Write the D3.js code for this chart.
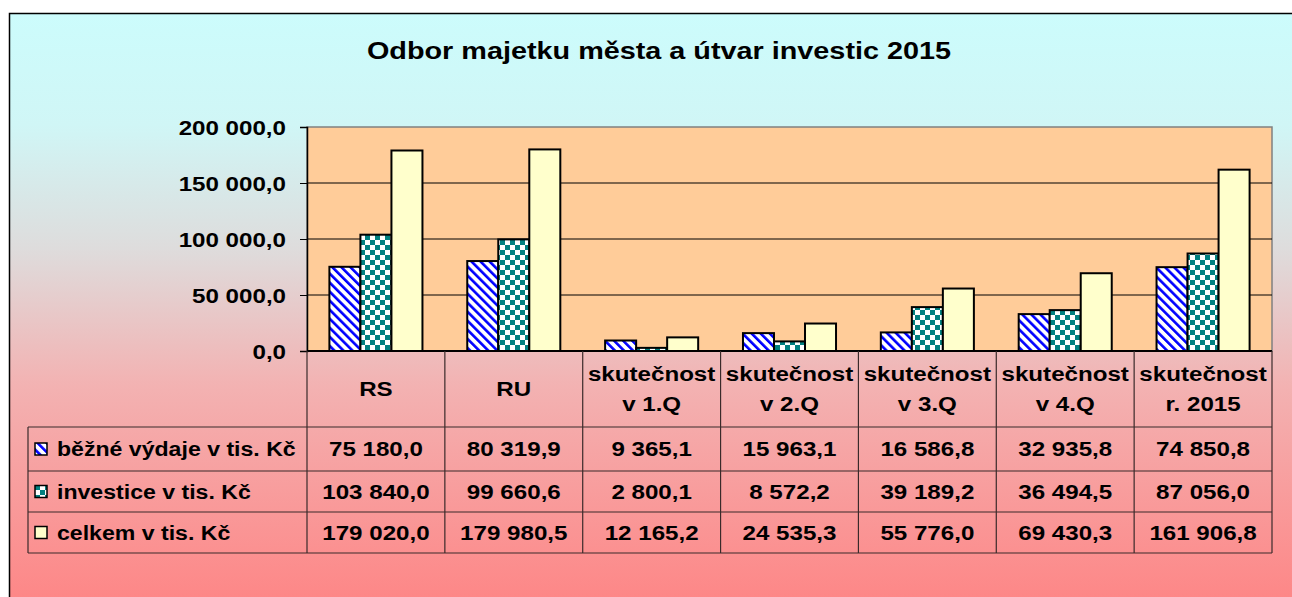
<!DOCTYPE html>
<html><head><meta charset="utf-8">
<script src="https://cdn.jsdelivr.net/npm/d3@7"></script>
<style>html,body{margin:0;padding:0;background:#fff;overflow:hidden}text{font-family:"Liberation Sans",Arial,sans-serif;font-weight:bold;fill:#000}</style>
</head><body><svg id="c" width="1292" height="597"></svg>
<script>
const title = "Odbor majetku města a útvar investic 2015";
const categories = ["RS","RU","skutečnost v 1.Q","skutečnost v 2.Q","skutečnost v 3.Q","skutečnost v 4.Q","skutečnost r. 2015"];
const categoryLines = [["RS"],["RU"],["skutečnost","v 1.Q"],["skutečnost","v 2.Q"],["skutečnost","v 3.Q"],["skutečnost","v 4.Q"],["skutečnost","r. 2015"]];
const seriesNames = ["běžné výdaje v tis. Kč","investice v tis. Kč","celkem v tis. Kč"];
const bezneVydaje = [75180.0, 80319.9, 9365.1, 15963.1, 16586.8, 32935.8, 74850.8];
const investice = [103840.0, 99660.6, 2800.1, 8572.2, 39189.2, 36494.5, 87056.0];
const celkem = [179020.0, 179980.5, 12165.2, 24535.3, 55776.0, 69430.3, 161906.8];
const yTicks = [0, 50000, 100000, 150000, 200000];

const series = [bezneVydaje, investice, celkem];
const fills = ["url(#stripes)","url(#checks)","#ffffcc"];
const FS = "21px", SX = 1.15;

const svg = d3.select("#c");
const defs = svg.append("defs");
const grad = defs.append("linearGradient").attr("id","bg").attr("x1",0).attr("y1",0).attr("x2",0).attr("y2",1);
[[0,"#ccfcfc"],[0.18,"#d0f6f6"],[0.38,"#dedcdc"],[0.6,"#f3b2b2"],[1,"#ff8080"]].forEach(([o,c])=>grad.append("stop").attr("offset",o).attr("stop-color",c));
const st = defs.append("pattern").attr("id","stripes").attr("patternUnits","userSpaceOnUse").attr("width",6.4).attr("height",6.4).attr("patternTransform","rotate(-45)");
st.append("rect").attr("width",6.4).attr("height",6.4).attr("fill","#fff");
st.append("rect").attr("width",2.6).attr("height",6.4).attr("fill","#0000ff");
const ck = defs.append("pattern").attr("id","checks").attr("patternUnits","userSpaceOnUse").attr("width",10).attr("height",10);
ck.append("rect").attr("width",10).attr("height",10).attr("fill","#fff");
ck.append("rect").attr("width",5).attr("height",5).attr("fill","#008080");
ck.append("rect").attr("x",5).attr("y",5).attr("width",5).attr("height",5).attr("fill","#008080");

// frame
svg.append("rect").attr("x",9.5).attr("y",13.5).attr("width",1300).attr("height",620).attr("fill","url(#bg)").attr("stroke","#000").attr("stroke-width",1.5);

const X0 = 307, X1 = 1272, Y0 = 351, Y1 = 127;
const x = d3.scaleBand().domain(categories).range([X0,X1]).paddingInner(0.325).paddingOuter(0.1625);
const xs = d3.scaleBand().domain([0,1,2]).range([0,x.bandwidth()]);
const y = d3.scaleLinear().domain([0,200000]).range([Y0,Y1]);
const fmt = d3.formatLocale({decimal:",",thousands:" ",grouping:[3],currency:["",""]}).format(",.1f");

svg.append("text").attr("x",0).attr("y",0).attr("text-anchor","middle").style("font-size","24px")
  .attr("transform","translate(659,59) scale(1.2,1)").text(title);

// plot area
svg.append("rect").attr("x",X0).attr("y",Y1).attr("width",X1-X0).attr("height",Y0-Y1).attr("fill","#ffcc99").attr("stroke","#808080").attr("stroke-width",1.5);
svg.append("g").selectAll("line").data(yTicks.filter(d=>d>0 && d<200000)).join("line")
  .attr("x1",X0).attr("x2",X1).attr("y1",d=>y(d)).attr("y2",d=>y(d)).attr("stroke","#000").attr("stroke-width",1);

const yAxis = d3.axisLeft(y).tickValues(yTicks).tickFormat(fmt).tickSize(7).tickPadding(14);
const ga = svg.append("g").attr("transform",`translate(${X0},0)`).call(yAxis);
ga.select(".domain").attr("stroke","#000").attr("stroke-width",1.5);
ga.selectAll(".tick line").attr("stroke","#000");
ga.selectAll(".tick text").style("font-size",FS).attr("font-family",null).attr("dy","0.35em")
  .attr("transform",`scale(${SX},1)`).attr("x",-21/SX);

// bars
series.forEach((vals,si)=>{
  svg.append("g").selectAll("rect").data(vals).join("rect")
    .attr("x",(d,i)=>x(categories[i])+xs(si)).attr("width",xs.bandwidth())
    .attr("y",d=>y(d)).attr("height",d=>Y0-y(d))
    .attr("fill",fills[si]).attr("stroke","#000").attr("stroke-width",2);
});
svg.append("line").attr("x1",X0).attr("x2",X1).attr("y1",Y0).attr("y2",Y0).attr("stroke","#000").attr("stroke-width",2);

// data table
const rowY = [Y0, 427, 471, 512, 553];
const TL = 28;
const tg = svg.append("g").attr("stroke","#3a2a2a").attr("stroke-width",1.2);
const colX = categories.map(c=>x(c)-x.step()*x.paddingOuter()).concat([X1]);
colX.forEach(cx=>tg.append("line").attr("x1",cx).attr("x2",cx).attr("y1",Y0).attr("y2",rowY[4]));
tg.append("line").attr("x1",TL).attr("x2",TL).attr("y1",rowY[1]).attr("y2",rowY[4]);
rowY.slice(1).forEach(ry=>tg.append("line").attr("x1",TL).attr("x2",X1).attr("y1",ry).attr("y2",ry));

const cx = c => x(c)+x.bandwidth()/2;
categoryLines.forEach((lines,i)=>{
  const c = categories[i];
  const mid = (rowY[0]+rowY[1])/2;
  lines.forEach((ln,j)=>{
    const yy = mid + (j-(lines.length-1)/2)*30;
    svg.append("text").attr("text-anchor","middle").attr("dy","0.35em")
      .style("font-size",FS).attr("transform",`translate(${cx(c)},${yy}) scale(${SX},1)`).text(ln);
  });
});
series.forEach((vals,si)=>{
  const mid = (rowY[si+1]+rowY[si+2])/2;
  vals.forEach((v,i)=>{
    svg.append("text").attr("text-anchor","middle").attr("dy","0.35em")
      .style("font-size",FS).attr("transform",`translate(${cx(categories[i])},${mid}) scale(${SX},1)`).text(fmt(v));
  });
  svg.append("rect").attr("x",35).attr("y",mid-6).attr("width",12).attr("height",12).attr("fill",fills[si]).attr("stroke","#000").attr("stroke-width",1.5);
  svg.append("text").attr("dy","0.35em").style("font-size",FS)
    .attr("transform",`translate(57,${mid}) scale(1.1,1)`).text(seriesNames[si]);
});
</script></body></html>
